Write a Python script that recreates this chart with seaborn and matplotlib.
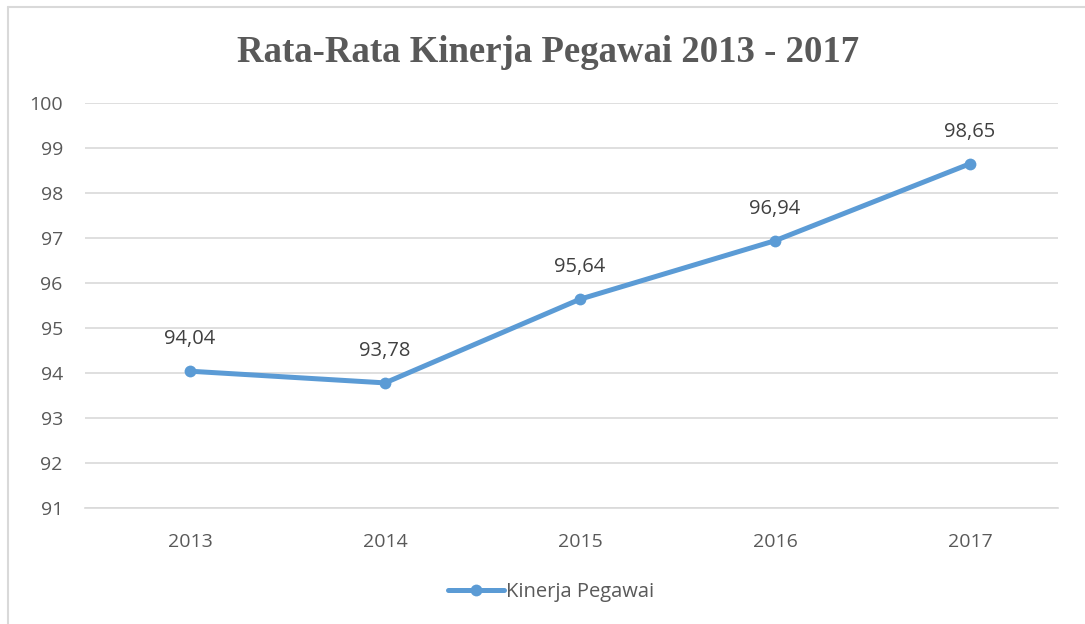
import matplotlib
matplotlib.use("Agg")
import matplotlib.pyplot as plt
import seaborn as sns
import pandas as pd
from matplotlib.lines import Line2D

years = ["2013", "2014", "2015", "2016", "2017"]
values = [94.04, 93.78, 95.64, 96.94, 98.65]
labels = ["94,04", "93,78", "95,64", "96,94", "98,65"]
y_ticks = [91, 92, 93, 94, 95, 96, 97, 98, 99, 100]
series_name = "Kinerja Pegawai"
title = "Rata-Rata Kinerja Pegawai 2013 - 2017"

df = pd.DataFrame({"Tahun": years, "Nilai": values, "Seri": series_name})

sns.set_theme(style="white")
plt.rcParams["font.family"] = ["Open Sans", "DejaVu Sans"]

W, H = 1085, 624
fig = plt.figure(figsize=(W / 100, H / 100), dpi=100)
ax = fig.add_axes([85 / W, 1 - 508 / H, (1058 - 85) / W, (508 - 103) / H])

line_color = "#5B9BD5"
sns.lineplot(data=df, x="Tahun", y="Nilai", ax=ax, color=line_color,
             linewidth=3.6, marker="o", markersize=8.5, markeredgewidth=0,
             legend=False, sort=False)

for i, (v, lab) in enumerate(zip(values, labels)):
    ax.annotate(lab, (i, v), xytext=(0, 23), textcoords="offset points",
                ha="center", va="center", fontsize=14.5, color="#404040")

ax.set_xlim(-(190 - 85) / 195, 4 + (1058 - 970) / 195)
ax.set_ylim(91, 100)
ax.set_yticks(y_ticks)
ax.set_yticklabels([str(t) for t in y_ticks])
ax.yaxis.grid(True, color="#D9D9D9", linewidth=1.2)
ax.xaxis.grid(False)
for s in ax.spines.values():
    s.set_visible(False)
ax.spines["bottom"].set_visible(True)
ax.spines["bottom"].set_color("#D9D9D9")
ax.spines["bottom"].set_linewidth(1.2)
ax.tick_params(axis="both", length=0, labelsize=14, labelcolor="#595959")
ax.tick_params(axis="y", pad=16)
ax.tick_params(axis="x", pad=18)
ax.set_xlabel("")
ax.set_ylabel("")
ax.set_axisbelow(True)

fig.text(548 / W, 1 - 52 / H, title, ha="center", va="center",
         fontsize=26.5, fontweight="bold", color="#595959",
         family=["Liberation Serif", "DejaVu Serif"])

handle = Line2D([0], [0], color=line_color, linewidth=3.6, marker="o",
                markersize=8.5, markeredgewidth=0)
fig.legend([handle], [series_name], loc="center", bbox_to_anchor=(551 / W, 1 - 592 / H),
           frameon=False, fontsize=14.5, labelcolor="#595959",
           handlelength=2.8, handletextpad=0.1)

# chart area border (top and left edges visible)
fig.add_artist(Line2D([8 / W, 1.0], [1 - 7 / H, 1 - 7 / H], transform=fig.transFigure,
                      color="#D9D9D9", linewidth=1.5))
fig.add_artist(Line2D([8 / W, 8 / W], [0, 1 - 7 / H], transform=fig.transFigure,
                      color="#D9D9D9", linewidth=1.5))

fig.savefig("out.png", dpi=100)
